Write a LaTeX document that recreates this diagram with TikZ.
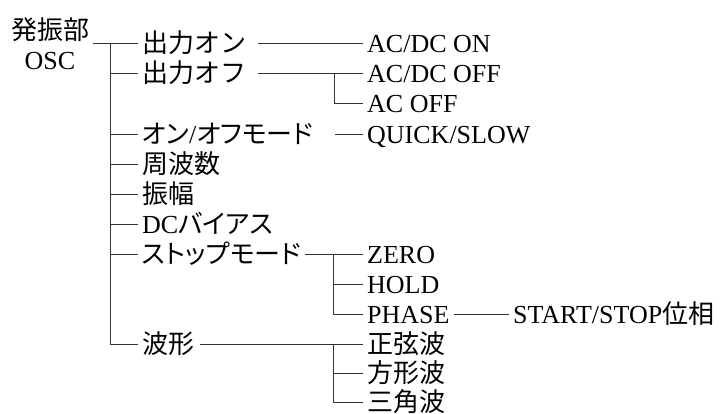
\documentclass[tikz,border=0pt]{standalone}
\usepackage{fontspec}
\setmainfont{Liberation Serif}
\newfontfamily\jp{Noto Sans CJK JP}
\newfontfamily\jpp[RawFeature=+palt]{Noto Sans CJK JP}
\begin{document}
\begin{tikzpicture}[x=1pt,y=-1pt,
  every node/.style={font=\fontsize{26}{30}\selectfont, inner ysep=0pt, inner xsep=4pt},
  item/.style={anchor=west, text height=19pt, text depth=0pt},
  link/.style={draw=black!80, line width=0.9pt}]
\useasboundingbox (0,0) rectangle (728,414);
% root
\node[align=center] (root) at (50,44) {{\jp 発振部}\\OSC};
% level 1
\node[item] (a1) at (138,43) {\jp 出力オン};
\node[item] (a2) at (138,73) {\jp 出力オフ};
\node[item] (a3) at (138,134) {{\jpp オン}/{\jpp オフモード}};
\node[item] (a4) at (138,164) {\jp 周波数};
\node[item] (a5) at (138,194) {\jp 振幅};
\node[item] (a6) at (138,224) {DC{\jpp バイアス}};
\node[item] (a7) at (138,254) {\jpp ストップモード};
\node[item] (a8) at (138,344) {\jp 波形};
% level 2
\node[item] (b1) at (363,43) {AC/DC ON};
\node[item] (b2) at (363,73) {AC/DC OFF};
\node[item] (b3) at (363,103) {AC OFF};
\node[item] (b4) at (363,134) {QUICK/SLOW};
\node[item] (b5) at (363,254) {ZERO};
\node[item] (b6) at (363,284) {HOLD};
\node[item] (b7) at (363,314) {PHASE};
\node[item] (b8) at (363,344) {\jp 正弦波};
\node[item] (b9) at (363,373) {\jp 方形波};
\node[item] (b10) at (363,402) {\jp 三角波};
% level 3
\node[item] (c1) at (509,314) {START/STOP{\jp 位相}};
% junction coordinates
\coordinate (t) at (110,43);
\coordinate (s1) at (258,43);
\coordinate (s2) at (258,73);
\coordinate (j1) at (334,73);
\coordinate (s3) at (335,134);
\coordinate (s4) at (305,254);
\coordinate (j2) at (333,254);
\coordinate (s5) at (200,344);
\coordinate (j3) at (333,344);
% connectors
\draw[link] (root.east |- a1.west) -- (a1.west);
\draw[link] (t) |- (a8.west);
\foreach \n in {a2,a3,a4,a5,a6,a7} \draw[link] (t |- \n.west) -- (\n.west);
\draw[link] (s1) -- (b1.west);
\draw[link] (s2) -- (b2.west);
\draw[link] (j1) |- (b3.west);
\draw[link] (s3) -- (b4.west);
\draw[link] (s4) -- (b5.west);
\draw[link] (j2) |- (b7.west);
\draw[link] (j2 |- b6.west) -- (b6.west);
\draw[link] (b7.east) -- (c1.west);
\draw[link] (s5) -- (b8.west);
\draw[link] (j3) |- (b10.west);
\draw[link] (j3 |- b9.west) -- (b9.west);
\end{tikzpicture}
\end{document}
